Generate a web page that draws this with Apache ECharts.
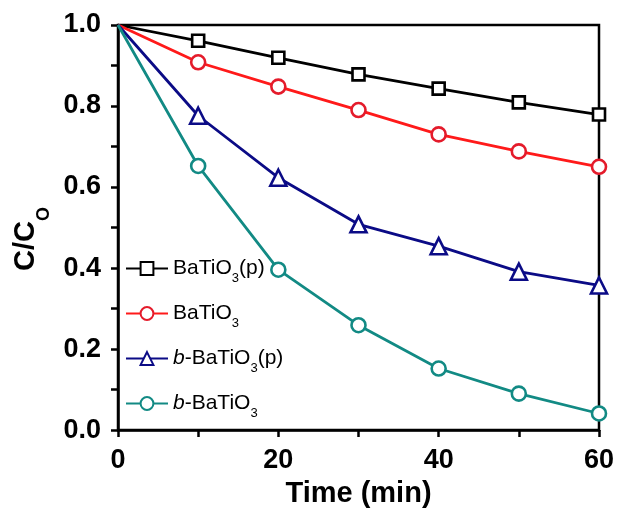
<!DOCTYPE html>
<html>
<head>
<meta charset="utf-8">
<script src="https://cdn.jsdelivr.net/npm/echarts@6/dist/echarts.min.js"></script>
<style>html,body{margin:0;padding:0;background:#fff;}#c{width:620px;height:513px;}</style>
</head>
<body>
<div id="c"></div>
<script>
var time = [0, 10, 20, 30, 40, 50, 60];
var batioP = [1.0, 0.961, 0.919, 0.878, 0.843, 0.809, 0.779];
var batio = [1.0, 0.908, 0.848, 0.790, 0.730, 0.688, 0.650];
var bBatioP = [1.0, 0.776, 0.623, 0.508, 0.454, 0.391, 0.357];
var bBatio = [1.0, 0.652, 0.396, 0.259, 0.152, 0.090, 0.041];
var seriesNames = ['BaTiO3(p)', 'BaTiO3', 'b-BaTiO3(p)', 'b-BaTiO3'];
var legendLabels = {
  'BaTiO3(p)': 'BaTiO{sub|3}(p)',
  'BaTiO3': 'BaTiO{sub|3}',
  'b-BaTiO3(p)': '{it|b}-BaTiO{sub|3}(p)',
  'b-BaTiO3': '{it|b}-BaTiO{sub|3}'
};

var FONT = '"Liberation Sans", Arial, sans-serif';

function pts(vals) {
  return time.map(function (t, i) {
    var d = { value: [t, vals[i]] };
    if (i === 0) d.symbol = 'none';
    return d;
  });
}

function mk(name, vals, symbol, size, lineColor, markColor) {
  return {
    name: name,
    type: 'line',
    data: pts(vals),
    symbol: symbol,
    symbolSize: size,
    showAllSymbol: true,
    lineStyle: { color: lineColor, width: 2.8 },
    itemStyle: { color: '#fff', borderColor: markColor, borderWidth: 2.6 },
    emphasis: { disabled: true },
    z: 3
  };
}

var chart = echarts.init(document.getElementById('c'), null, { renderer: 'canvas' });
chart.setOption({
  backgroundColor: '#fff',
  animation: false,
  grid: { left: 118, right: 21, top: 25, bottom: 81, show: true, borderColor: '#000', borderWidth: 2.5, backgroundColor: 'transparent' },
  legend: {
    orient: 'vertical',
    left: 120,
    top: 253,
    itemWidth: 42,
    itemHeight: 16,
    itemGap: 18,
    data: seriesNames,
    selectedMode: false,
    formatter: function (n) { return legendLabels[n]; },
    textStyle: {
      fontFamily: FONT, fontSize: 21, color: '#000',
      rich: {
        sub: { fontFamily: FONT, fontSize: 13, color: '#000', padding: [20, 0, 0, 0] },
        it: { fontFamily: FONT, fontSize: 21, fontStyle: 'italic', color: '#000' }
      }
    }
  },
  xAxis: {
    type: 'value',
    min: 0, max: 60, interval: 20,
    name: 'Time (min)',
    nameLocation: 'middle',
    nameGap: 46,
    nameTextStyle: { fontFamily: FONT, fontSize: 29, fontWeight: 'bold', color: '#000' },
    axisLine: { lineStyle: { color: '#000', width: 2.5 } },
    axisTick: { inside: false, length: 7, lineStyle: { color: '#000', width: 2.5 } },
    minorTick: { show: true, splitNumber: 2, length: 7, lineStyle: { color: '#000', width: 2.5 } },
    splitLine: { show: false },
    axisLabel: { fontFamily: FONT, fontSize: 27, fontWeight: 'bold', color: '#000', margin: 17 }
  },
  yAxis: {
    type: 'value',
    min: 0, max: 1, interval: 0.2,
    name: 'C/C{sub|O}',
    nameLocation: 'middle',
    nameRotate: 90,
    nameGap: 57,
    nameTextStyle: {
      fontFamily: FONT, fontSize: 29, fontWeight: 'bold', color: '#000',
      padding: [0, 23, 0, 0],
      rich: { sub: { fontFamily: FONT, fontSize: 18, fontWeight: 'bold', color: '#000', padding: [35, 0, 0, 0] } }
    },
    axisLine: { lineStyle: { color: '#000', width: 2.5 } },
    axisTick: { inside: false, length: 7, lineStyle: { color: '#000', width: 2.5 } },
    minorTick: { show: true, splitNumber: 2, length: 7, lineStyle: { color: '#000', width: 2.5 } },
    splitLine: { show: false },
    axisLabel: {
      fontFamily: FONT, fontSize: 27, fontWeight: 'bold', color: '#000', margin: 17,
      formatter: function (v) { return v.toFixed(1); }
    }
  },
  series: [
    mk(seriesNames[0], batioP, 'rect', 12, '#000000', '#000000'),
    mk(seriesNames[1], batio, 'circle', 14, '#ff1a1a', '#e41b2b'),
    mk(seriesNames[2], bBatioP, 'triangle', 16, '#0b0b86', '#0b0b86'),
    mk(seriesNames[3], bBatio, 'circle', 14, '#128a84', '#128a84')
  ]
});
</script>
</body>
</html>
